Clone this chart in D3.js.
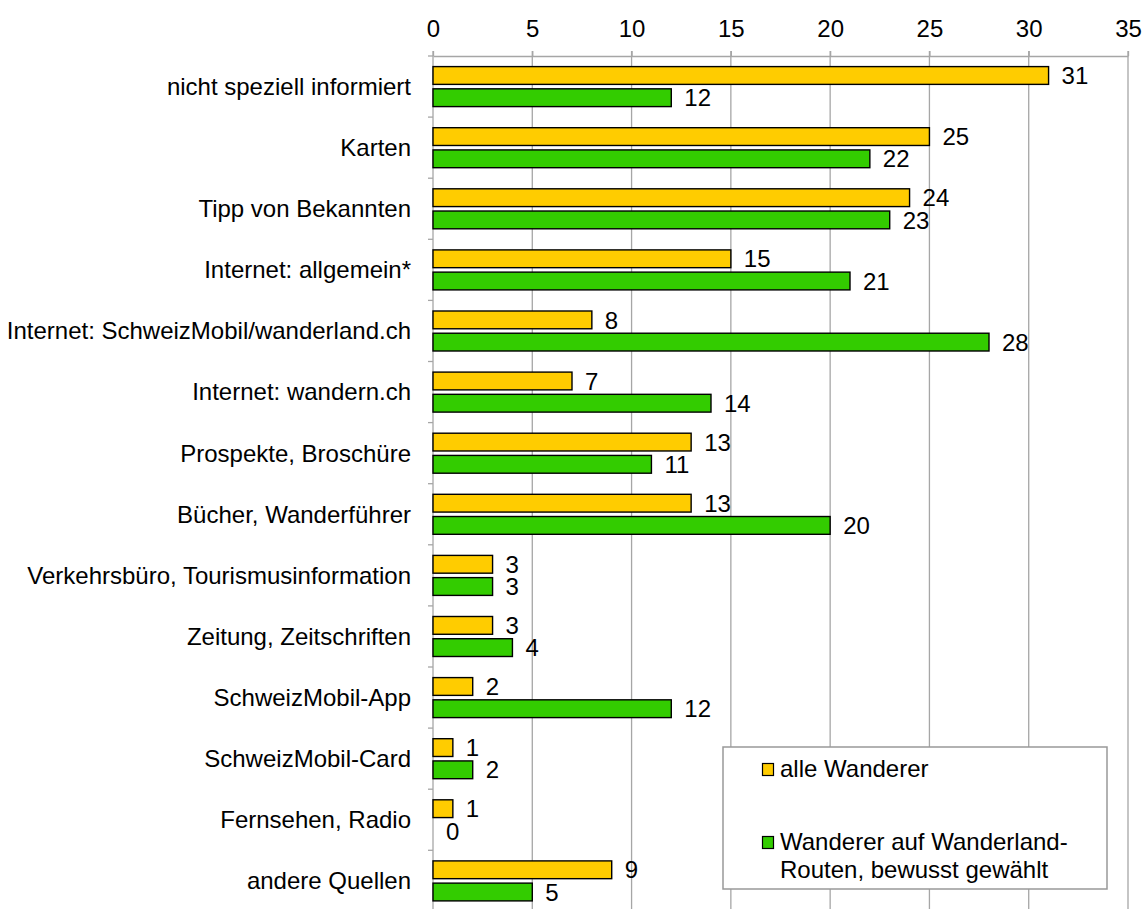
<!DOCTYPE html>
<html><head><meta charset="utf-8">
<script src="https://cdn.jsdelivr.net/npm/d3@7"></script>
<style>body{margin:0;background:#fff}svg{display:block;font-family:Arial,"Liberation Sans",sans-serif}</style>
</head><body>
<svg id="c" width="1142" height="909"></svg>
<script>
const categories = ["nicht speziell informiert","Karten","Tipp von Bekannten","Internet: allgemein*","Internet: SchweizMobil/wanderland.ch","Internet: wandern.ch","Prospekte, Broschüre","Bücher, Wanderführer","Verkehrsbüro, Tourismusinformation","Zeitung, Zeitschriften","SchweizMobil-App","SchweizMobil-Card","Fernsehen, Radio","andere Quellen"];
const seriesNames = ["alle Wanderer","Wanderer auf Wanderland-Routen, bewusst gewählt"];
const alleWanderer = [31,25,24,15,8,7,13,13,3,3,2,1,1,9];
const wanderlandBewusst = [12,22,23,21,28,14,11,20,3,4,12,2,0,5];
const xTicks = [0,5,10,15,20,25,30,35];
const colors = ["#FFCC00","#33CC00"];
const FS = 24;

const svg = d3.select("#c");
const x = d3.scaleLinear().domain([0,35]).range([433,1128]);
const y = d3.scaleBand().domain(categories).range([56, 56+14*61.1]);
const sub = d3.scaleBand().domain([0,1]).range([10.6,50.6]).paddingInner(0.2);
const grid = "#a6a6a6";

// gridlines
svg.append("g").selectAll("line").data(xTicks.slice(1)).join("line")
  .attr("x1",d=>x(d)).attr("x2",d=>x(d)).attr("y1",51).attr("y2",909)
  .attr("stroke",grid).attr("stroke-width",1.3);

// top axis
const xa = svg.append("g").attr("transform","translate(0,56)")
  .call(d3.axisTop(x).tickValues(xTicks).tickSize(5).tickSizeOuter(0).tickPadding(14));
xa.select(".domain").attr("stroke",grid).attr("stroke-width",1.3);
xa.selectAll(".tick line").attr("stroke",grid).attr("stroke-width",1.3);
xa.selectAll(".tick text").attr("font-size",FS).attr("fill","#000").attr("font-family","Arial, 'Liberation Sans', sans-serif");
svg.append("line").attr("x1",428).attr("x2",433).attr("y1",56).attr("y2",56).attr("stroke",grid).attr("stroke-width",1.3);

// left axis
svg.append("line").attr("x1",433).attr("x2",433).attr("y1",51).attr("y2",909).attr("stroke",grid).attr("stroke-width",1.3);
svg.append("g").selectAll("line").data(categories).join("line")
  .attr("x1",428).attr("x2",433).attr("y1",d=>y(d)+y.bandwidth()).attr("y2",d=>y(d)+y.bandwidth())
  .attr("stroke",grid).attr("stroke-width",1.3);
svg.append("g").selectAll("text").data(categories).join("text")
  .attr("x",411).attr("y",d=>y(d)+y.bandwidth()/2).attr("dy","0.35em")
  .attr("text-anchor","end").attr("font-size",FS).attr("fill","#000").text(d=>d);

// bars
const rows = categories.map((c,i)=>({c, v:[alleWanderer[i], wanderlandBewusst[i]]}));
const g = svg.append("g");
rows.forEach(r=>{
  r.v.forEach((v,s)=>{
    const yy = y(r.c)+sub(s);
    if(v>0){
      g.append("rect").attr("x",x(0)).attr("y",yy).attr("width",x(v)-x(0)).attr("height",sub.bandwidth())
        .attr("fill",colors[s]).attr("stroke","#000").attr("stroke-width",1.4);
    }
    g.append("text").attr("x",x(v)+13).attr("y",yy+sub.bandwidth()/2).attr("dy","0.36em")
      .attr("font-size",FS).attr("fill","#000").text(v);
  });
});

// legend
const lg = svg.append("g");
lg.append("rect").attr("x",723).attr("y",747).attr("width",384).attr("height",142)
  .attr("fill","#fff").attr("stroke","#999").attr("stroke-width",1.5);
lg.append("rect").attr("x",762.5).attr("y",763.5).attr("width",11).attr("height",12).attr("fill",colors[0]).attr("stroke","#000").attr("stroke-width",1.2);
lg.append("text").attr("x",780).attr("y",777).attr("font-size",FS).text(seriesNames[0]);
lg.append("rect").attr("x",762.5).attr("y",836.5).attr("width",11).attr("height",12).attr("fill",colors[1]).attr("stroke","#000").attr("stroke-width",1.2);
lg.append("text").attr("x",780).attr("y",850).attr("font-size",FS).text("Wanderer auf Wanderland-");
lg.append("text").attr("x",780).attr("y",878).attr("font-size",FS).text("Routen, bewusst gewählt");
</script>
</body></html>
